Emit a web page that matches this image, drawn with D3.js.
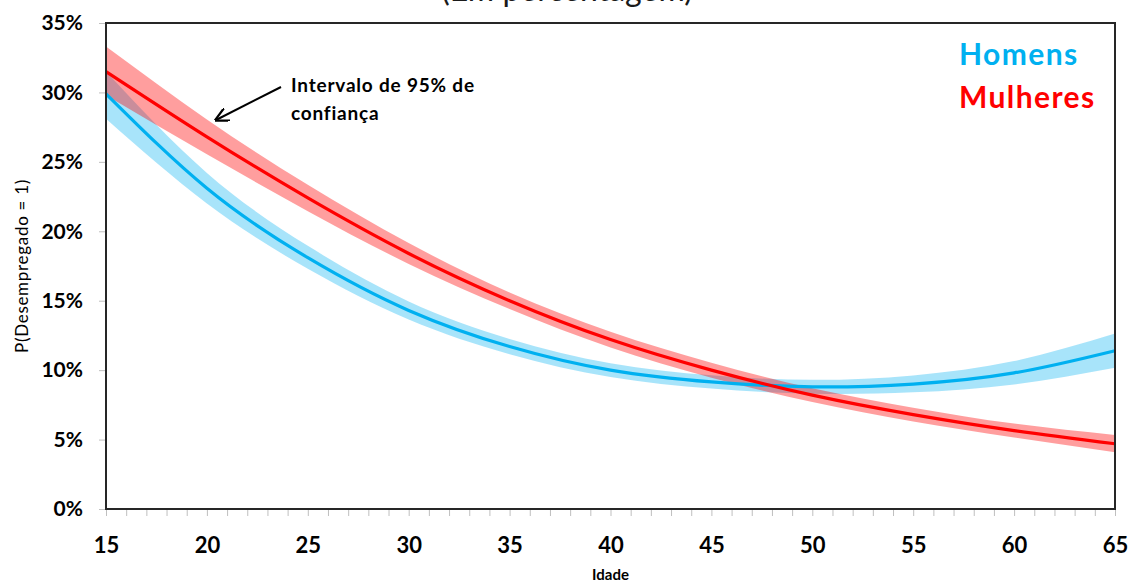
<!DOCTYPE html>
<html>
<head>
<meta charset="utf-8">
<script src="https://cdn.jsdelivr.net/npm/d3@7"></script>
<style>
  html, body { margin: 0; padding: 0; background: #fff; }
  svg { display: block; font-family: Lato, "Open Sans", sans-serif; }
</style>
</head>
<body>
<svg id="chart" width="1132" height="581"></svg>
<script>
// Idade (anos)
const ages = [15, 20, 25, 30, 35, 40, 45, 50, 55, 60, 65];

// Probabilidade prevista de desemprego (%), com intervalo de 95% de confiança
const homens      = [29.9, 23.1, 18.1, 14.3, 11.7, 10.0, 9.15, 8.8, 9.0, 9.8, 11.4];
const homensLower = [28.1, 22.0, 17.3, 13.65, 11.15, 9.5, 8.67, 8.3, 8.4, 8.97, 10.17];
const homensUpper = [31.5, 24.2, 18.95, 14.95, 12.25, 10.5, 9.63, 9.3, 9.62, 10.65, 12.63];

const mulheres      = [31.5, 26.8, 22.4, 18.4, 15.0, 12.2, 10.0, 8.2, 6.8, 5.65, 4.7];
const mulheresLower = [29.8, 25.55, 21.45, 17.65, 14.4, 11.63, 9.46, 7.7, 6.3, 5.15, 4.08];
const mulheresUpper = [33.3, 28.05, 23.35, 19.15, 15.6, 12.77, 10.54, 8.7, 7.3, 6.15, 5.33];

const xTicks = [15, 20, 25, 30, 35, 40, 45, 50, 55, 60, 65];
const yTicks = [0, 5, 10, 15, 20, 25, 30, 35];

const svg = d3.select("#chart");
const plotLeft = 106, plotRight = 1115, plotTop = 23, plotBottom = 509;

const x = d3.scaleLinear().domain([15, 65]).range([plotLeft, plotRight]);
const y = d3.scaleLinear().domain([0, 35]).range([plotBottom, plotTop]);

const rows = (line, lo, hi) => ages.map((a, i) => ({ a, v: line[i], lo: lo[i], hi: hi[i] }));
const blue = rows(homens, homensLower, homensUpper);
const red = rows(mulheres, mulheresLower, mulheresUpper);

const curve = d3.curveNatural;
const area = d3.area().x(d => x(d.a)).y0(d => y(d.lo)).y1(d => y(d.hi)).curve(curve);
const line = d3.line().x(d => x(d.a)).y(d => y(d.v)).curve(curve);

// Title (partially above the visible area)
svg.append("text")
  .attr("x", 567).attr("y", 1)
  .attr("text-anchor", "middle")
  .attr("font-size", 32)
  .attr("fill", "#1a1a1a")
  .text("(Em percentagem)");

// Minor ticks on the x axis (every year)
svg.append("g")
  .attr("transform", `translate(0,${plotBottom})`)
  .call(d3.axisBottom(x).ticks(50).tickSize(7).tickFormat(""))
  .call(g => g.select(".domain").remove())
  .call(g => g.selectAll("line").attr("stroke", "#bfbfbf").attr("stroke-width", 1));

// x labels
svg.append("g")
  .attr("transform", `translate(0,${plotBottom})`)
  .call(d3.axisBottom(x).tickValues(xTicks).tickSize(0).tickPadding(28).tickFormat(d3.format("d")))
  .call(g => g.select(".domain").remove())
  .call(g => g.selectAll("text")
    .attr("font-family", "Lato, sans-serif")
    .attr("font-size", 22).attr("font-weight", "bold").attr("fill", "#000"));

// y axis
svg.append("g")
  .attr("transform", `translate(${plotLeft},0)`)
  .call(d3.axisLeft(y).tickValues(yTicks).tickSize(7).tickPadding(16).tickFormat(d => d + "%"))
  .call(g => g.select(".domain").remove())
  .call(g => g.selectAll("line").attr("stroke", "#bfbfbf").attr("stroke-width", 1))
  .call(g => g.selectAll("text")
    .attr("font-family", "Lato, sans-serif")
    .attr("font-size", 21).attr("font-weight", "bold").attr("fill", "#000"));

// Confidence bands
const plot = svg.append("g");
plot.append("path").datum(blue).attr("d", area)
  .attr("fill", "#00B0F0").attr("fill-opacity", 0.34);
plot.append("path").datum(red).attr("d", area)
  .attr("fill", "#FF0000").attr("fill-opacity", 0.38);

// Central estimates
plot.append("path").datum(blue).attr("d", line)
  .attr("fill", "none").attr("stroke", "#00B0F0").attr("stroke-width", 3.2);
plot.append("path").datum(red).attr("d", line)
  .attr("fill", "none").attr("stroke", "#FF0000").attr("stroke-width", 3.2);

// Plot frame
svg.append("rect")
  .attr("x", plotLeft).attr("y", plotTop)
  .attr("width", plotRight - plotLeft).attr("height", plotBottom - plotTop)
  .attr("fill", "none").attr("stroke", "#262626").attr("stroke-width", 2);

// Axis titles
svg.append("text")
  .attr("transform", `translate(28,${(plotTop + plotBottom) / 2}) rotate(-90)`)
  .attr("text-anchor", "middle")
  .attr("font-size", 17)
  .attr("letter-spacing", 0.7)
  .attr("fill", "#000")
  .text("P(Desempregado = 1)");

svg.append("text")
  .attr("x", (plotLeft + plotRight) / 2).attr("y", 580)
  .attr("text-anchor", "middle")
  .attr("font-size", 15).attr("font-weight", "bold")
  .attr("fill", "#000")
  .text("Idade");

// Legend
svg.append("text")
  .attr("x", 959).attr("y", 65)
  .attr("font-size", 30).attr("font-weight", "bold")
  .attr("letter-spacing", 1.4)
  .attr("fill", "#00B0F0")
  .text("Homens");
svg.append("text")
  .attr("x", 959).attr("y", 108)
  .attr("font-size", 30).attr("font-weight", "bold")
  .attr("letter-spacing", 1.4)
  .attr("fill", "#FF0000")
  .text("Mulheres");

// Annotation
svg.append("defs").append("marker")
  .attr("id", "arrowhead")
  .attr("viewBox", "0 0 10 10")
  .attr("refX", 9).attr("refY", 5)
  .attr("markerWidth", 7).attr("markerHeight", 7)
  .attr("orient", "auto")
  .append("path")
  .attr("d", "M0,0 L10,5 L0,10")
  .attr("fill", "none").attr("stroke", "#000").attr("stroke-width", 1.6);

svg.append("line")
  .attr("x1", 281).attr("y1", 87)
  .attr("x2", 216).attr("y2", 120)
  .attr("stroke", "#000").attr("stroke-width", 2)
  .attr("marker-end", "url(#arrowhead)");

const note = svg.append("text")
  .attr("font-size", 19).attr("font-weight", "bold")
  .attr("letter-spacing", 0.8).attr("fill", "#000");
note.append("tspan").attr("x", 291).attr("y", 92).text("Intervalo de 95% de");
note.append("tspan").attr("x", 291).attr("y", 120).text("confiança");
</script>
</body>
</html>
